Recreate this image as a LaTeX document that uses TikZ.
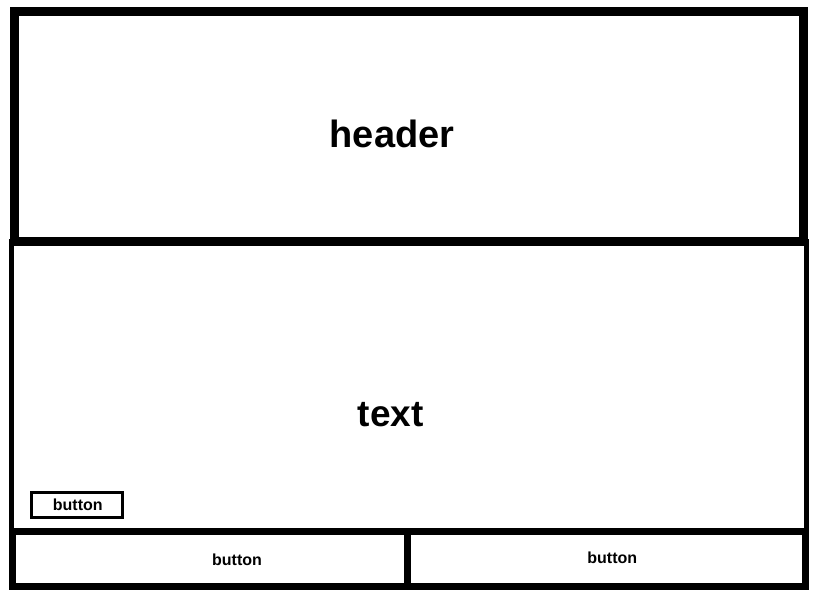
\documentclass[tikz,border=0pt]{standalone}
\usepackage{fontspec}
\setmainfont{Liberation Sans}
\tikzset{
  box/.style={draw, rectangle, inner sep=0pt, line join=miter},
  caption/.style={font=\bfseries\fontsize{#1}{#1}\selectfont, inner sep=0pt},
}
\begin{document}
\begin{tikzpicture}[x=1pt, y=-1pt]
				% Page frame
				\fill[white] (0,0) rectangle (822,606);
				\useasboundingbox (0,0) rectangle (822,606);
				
				% Main text area (drawn first, header overlaps its top edge)
				\node[box, line width=5pt, minimum width=794.5pt, minimum height=290.5pt,
				      label={[caption=37, xshift=-18pt, yshift=-28pt]center:text}] (textarea) at (408.75,386.75) {};
				
				% Header with the heavier border
				\node[box, line width=9pt, minimum width=789pt, minimum height=230pt,
				      label={[caption=38, xshift=-17pt, yshift=-7pt]center:header}] (header) at (409,126.5) {};
				
				% Small button inside the text area
				\node[box, line width=3pt, minimum width=91pt, minimum height=25pt,
				      caption=16] (btnsmall) at (77,505) {\hspace*{1.5pt}button};
				
				% Bottom row of two buttons
				\node[box, line width=7pt, minimum width=395pt, minimum height=55pt,
				      label={[caption=16, xshift=27pt, yshift=-1pt]center:button}] (btnleft) at (210,559) {};
				\node[box, line width=7pt, minimum width=397.5pt, minimum height=55pt,
				      label={[caption=16, xshift=6pt, yshift=1pt]center:button}] (btnright) at (606.25,559) {};
			\end{tikzpicture}
\end{document}
